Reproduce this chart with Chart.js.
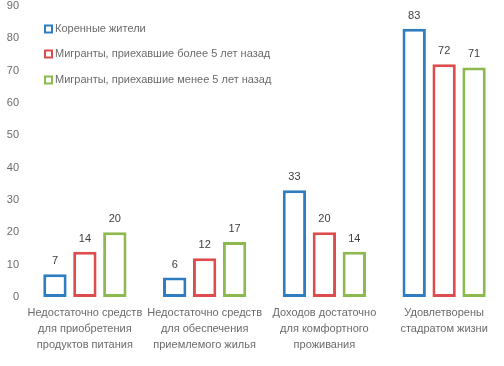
<!DOCTYPE html>
<html><head><meta charset="utf-8">
<script src="https://cdn.jsdelivr.net/npm/chart.js@4"></script>
<style>html,body{margin:0;padding:0;background:#fff}#wrap{width:504px;height:366px;position:relative}</style>
</head><body><div id="wrap"><canvas id="c"></canvas></div>
<script>
const categories = [
  ["Недостаточно средств","для приобретения","продуктов питания"],
  ["Недостаточно средств","для обеспечения","приемлемого жилья"],
  ["Доходов достаточно","для комфортного","проживания"],
  ["Удовлетворены","стадратом жизни"]
];
const seriesNames = ["Коренные жители","Мигранты, приехавшие более 5 лет назад","Мигранты, приехавшие менее 5 лет назад"];
const native = [7, 6, 33, 83];
const migrantsOld = [14, 12, 20, 72];
const migrantsNew = [20, 17, 14, 71];
const colors = ["#2E7DC0", "#DE4D4D", "#8DBA4F"];
const FONT = "'Liberation Sans', Arial, sans-serif";
const TEXT = "#6b6b6b";

const valueLabels = {
  id: 'valueLabels',
  afterDatasetsDraw(chart) {
    const ctx = chart.ctx;
    ctx.save();
    ctx.font = "11px " + FONT;
    ctx.fillStyle = "#404040";
    ctx.textAlign = "center";
    ctx.textBaseline = "middle";
    chart.data.datasets.forEach((ds, i) => {
      chart.getDatasetMeta(i).data.forEach((bar, j) => {
        ctx.fillText(String(ds.data[j]), bar.x, bar.y - 13);
      });
    });
    ctx.restore();
  }
};
const customLegend = {
  id: 'customLegend',
  afterDraw(chart) {
    const ctx = chart.ctx;
    const ys = [29, 54, 80];
    ctx.save();
    ctx.font = "11px " + FONT;
    ctx.textBaseline = "middle";
    ctx.textAlign = "left";
    seriesNames.forEach((n, i) => {
      ctx.strokeStyle = colors[i];
      ctx.lineWidth = 2;
      ctx.strokeRect(45, ys[i] - 3.5, 7, 7);
      ctx.fillStyle = TEXT;
      ctx.fillText(n, 55, ys[i]);
    });
    ctx.restore();
  }
};

new Chart(document.getElementById('c'), {
  type: 'bar',
  data: {
    labels: categories,
    datasets: [
      { label: seriesNames[0], data: native, borderColor: colors[0] },
      { label: seriesNames[1], data: migrantsOld, borderColor: colors[1] },
      { label: seriesNames[2], data: migrantsNew, borderColor: colors[2] }
    ].map(d => Object.assign(d, { backgroundColor: 'rgba(255,255,255,1)', borderWidth: 3, borderSkipped: false, categoryPercentage: 0.75, barPercentage: 0.78 }))
  },
  options: {
    responsive: true,
    maintainAspectRatio: false,
    animation: false,
    layout: { autoPadding: false, padding: { top: 6, right: 0, left: 0, bottom: 0 } },
    plugins: { legend: { display: false }, tooltip: { enabled: false } },
    scales: {
      x: {
        grid: { display: false, drawTicks: false },
        border: { display: false },
        ticks: { color: TEXT, font: { size: 11, family: FONT, lineHeight: 1.45 }, autoSkip: false, maxRotation: 0, minRotation: 0, padding: 8 },
        afterFit(s) { s.height = 69; s.paddingLeft = 0; s.paddingRight = 0; }
      },
      y: {
        min: 0, max: 90,
        grid: { display: false, drawTicks: false },
        border: { display: false },
        ticks: { stepSize: 10, color: TEXT, font: { size: 11, family: FONT }, padding: 6 },
        afterFit(s) { s.width = 25; s.paddingTop = 0; s.paddingBottom = 0; }
      }
    }
  },
  plugins: [valueLabels, customLegend]
});
</script></body></html>
